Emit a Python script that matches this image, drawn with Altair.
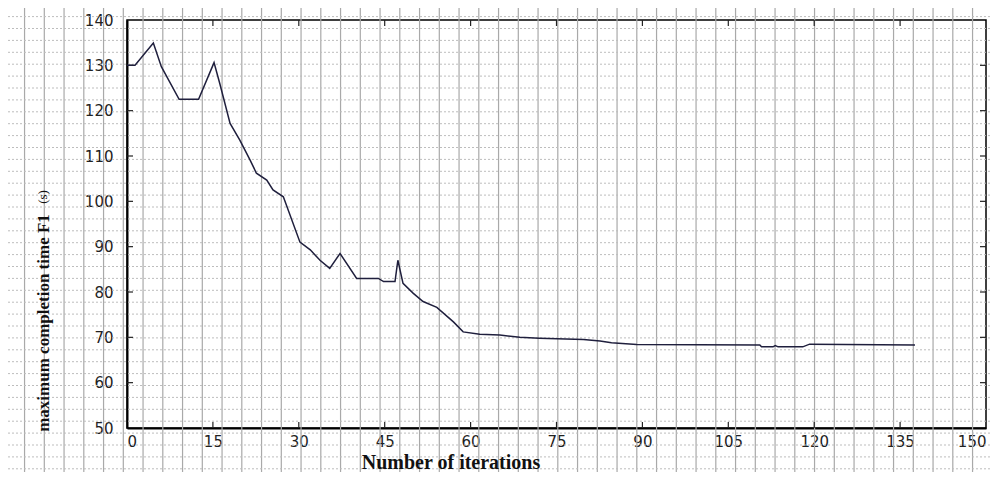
import altair as alt
import pandas as pd

# ---- data ----
iterations = [0, 1.4, 4.6, 6, 9.1, 12.5, 15.2, 16.2, 18, 19.7, 21.5, 22.6, 24.4, 25.5, 27.3,
              30.2, 32, 33.7, 35.4, 37.2, 40.1, 43.9, 44.8, 46.8, 47.3, 48.2, 50, 51.7, 54.1,
              57, 58.7, 61.6, 65.1, 68.6, 72, 79.7, 82.6, 84.6, 89, 110.5, 110.8, 112.8, 113.2,
              113.7, 118, 119.2, 137.6]
f1_values = [130, 130, 134.9, 129.7, 122.5, 122.5, 130.6, 126, 117.2, 113.5, 109.1, 106.2, 104.7,
             102.5, 101, 91, 89.3, 87, 85.2, 88.5, 83, 83, 82.3, 82.3, 87, 81.9, 79.7, 77.9, 76.6,
             73.4, 71.2, 70.7, 70.5, 70, 69.8, 69.5, 69.2, 68.8, 68.4, 68.3, 67.9, 67.9, 68.2,
             67.9, 67.9, 68.5, 68.3]
x_ticks = [0, 15, 30, 45, 60, 75, 90, 105, 120, 135, 150]
y_ticks = [50, 60, 70, 80, 90, 100, 110, 120, 130, 140]
x_inner_ticks = [15, 30, 45, 60, 75, 90, 105, 120, 135]
y_inner_ticks = [60, 70, 80, 90, 100, 110, 120, 130]
paper_cols = list(range(-7, 46))   # graph-paper background, vertical lines
paper_rows = list(range(0, 41))    # graph-paper background, dotted rows

W, H = 859, 408
xs = alt.Scale(domain=[0, 150], nice=False, zero=False)
ys = alt.Scale(domain=[50, 140], nice=False, zero=False)

df = pd.DataFrame({"it": iterations, "f1": f1_values})

paper_v = alt.Chart(pd.DataFrame({"k": paper_cols})).mark_rule(
    color="#a9a9a9", strokeWidth=1.2
).encode(
    x=alt.X("k:Q", axis=None, scale=alt.Scale(domain=[-7, 45], range=[-141.95, 885.05], nice=False, zero=False)),
    y=alt.value(-20), y2=alt.value(470),
)
paper_h = alt.Chart(pd.DataFrame({"j": paper_rows})).mark_rule(
    color="#bdbdbd", strokeWidth=1, strokeDash=[2, 2]
).encode(
    y=alt.Y("j:Q", axis=None, scale=alt.Scale(domain=[0, 40], range=[-15.3, 460.7], nice=False, zero=False)),
    x=alt.value(-127), x2=alt.value(872),
)

tl = alt.Chart(pd.DataFrame({"v": y_inner_ticks})).mark_rule(color="#222", strokeWidth=1.2).encode(
    y=alt.Y("v:Q", scale=ys, axis=None), x=alt.value(0), x2=alt.value(6))
tr = alt.Chart(pd.DataFrame({"v": y_inner_ticks})).mark_rule(color="#222", strokeWidth=1.2).encode(
    y=alt.Y("v:Q", scale=ys, axis=None), x=alt.value(W - 6), x2=alt.value(W))
tb = alt.Chart(pd.DataFrame({"v": x_inner_ticks})).mark_rule(color="#222", strokeWidth=1.2).encode(
    x=alt.X("v:Q", scale=xs, axis=None), y=alt.value(H), y2=alt.value(H - 6))
tt = alt.Chart(pd.DataFrame({"v": x_inner_ticks})).mark_rule(color="#222", strokeWidth=1.2).encode(
    x=alt.X("v:Q", scale=xs, axis=None), y=alt.value(0), y2=alt.value(6))

line = alt.Chart(df).mark_line(color="#1f1f3d", strokeWidth=1.5).encode(
    x=alt.X("it:Q", scale=xs, title=None,
            axis=alt.Axis(values=x_ticks, ticks=False, grid=False, domain=True, domainColor="black",
                          domainWidth=2, labelFont="DejaVu Sans", labelFontSize=15, labelColor="#222",
                          labelPadding=6, labelFlush=True)),
    y=alt.Y("f1:Q", scale=ys, title=None,
            axis=alt.Axis(values=y_ticks, ticks=False, grid=False, domain=True, domainColor="black",
                          domainWidth=2, labelFont="DejaVu Sans", labelFontSize=15, labelColor="#222",
                          labelPadding=14, labelFlush=False)),
    order=alt.Order("it:Q"),
)

one = pd.DataFrame({"a": [0]})
ytitle = alt.Chart(one).mark_text(
    text="maximum completion time F1", angle=270, font="Liberation Serif", fontSize=17,
    fontWeight="bold", color="#111", align="center", baseline="middle"
).encode(x=alt.value(-83), y=alt.value(303))
yunit = alt.Chart(one).mark_text(
    text="(s)", angle=270, font="Liberation Serif", fontSize=13, color="#111",
    align="center", baseline="middle"
).encode(x=alt.value(-84), y=alt.value(177))
xtitle = alt.Chart(one).mark_text(
    text="Number of iterations", font="Liberation Serif", fontSize=20, fontWeight="bold",
    color="#111", align="center", baseline="middle"
).encode(x=alt.value(324), y=alt.value(443))

chart = alt.layer(paper_v, paper_h, tl, tr, tb, tt, line, ytitle, yunit, xtitle).resolve_scale(
    x="independent", y="independent"
).properties(
    width=W, height=H,
    autosize=alt.AutoSizeParams(type="none"),
    padding={"left": 119, "top": 12, "right": 5, "bottom": 44},
    background="white",
).configure_view(stroke="black", strokeWidth=1.5)

chart.save("out.html", embed_options={"renderer": "svg", "actions": False})
